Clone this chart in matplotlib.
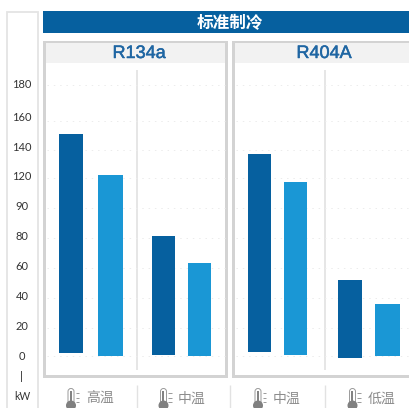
import matplotlib
matplotlib.use("Agg")
import matplotlib.pyplot as plt
import matplotlib.patheffects as pe
from matplotlib.patches import Rectangle, Circle, FancyBboxPatch

plt.rcParams['font.family'] = ['Noto Sans CJK SC', 'DejaVu Sans']

# ---- data ----
title = "标准制冷"
refrigerants = ["R134a", "R404A"]
zones = ["高温", "中温", "中温", "低温"]
tick_labels = ["180", "160", "140", "120", "90", "80", "60", "40", "20", "0"]
tick_positions = [181.8, 159.8, 139.8, 120.5, 100.5, 80.5, 60.5, 40.5, 20.5, 0.5]
grid_positions = [181, 157, 137.5, 119, 99, 79, 59, 39, 19, 0]
bar_tops = [148, 121, 80, 62, 135, 116, 51, 35]
bar_bottoms = [2, 0, 1, 0, 3, 1, -1, 0]

# ---- layout (pixels) ----
W, H = 410, 408
bar_left = [59, 98, 152, 188, 248, 284, 338, 375]
bar_right = [83, 123, 175, 211, 271, 307, 362, 400]
DARK, LIGHT = "#06609f", "#1a97d5"
bar_colors = [DARK, LIGHT] * 4
ZERO_Y = 356
PX_PER_UNIT = 1.5
AX_LEFT = 39

fig = plt.figure(figsize=(W / 100, H / 100), dpi=100, facecolor="white")

# chrome layer in pixel units
bg = fig.add_axes([0, 0, 1, 1], zorder=0)
bg.set_xlim(0, W)
bg.set_ylim(H, 0)
bg.axis("off")

def rect(x0, y0, x1, y1, **kw):
    kw.setdefault("linewidth", 0)
    bg.add_patch(Rectangle((x0, y0), x1 - x0, y1 - y0, **kw))

# value-axis strip
rect(6.7, 11.7, 38.3, 420, facecolor="white", edgecolor="#e4e4e4", linewidth=1.3)
# title bar
rect(43, 11, W + 5, 33, facecolor=DARK)
bg.text(230, 23, title, color="white", fontsize=12.0, fontweight="bold",
        ha="center", va="center")

# panels
panels = [(43, 228, 139, refrigerants[0], 137.2), (232, W + 6, 324, refrigerants[1], 325.3)]
for x0, x1, cx, name, div in panels:
    rect(x0 + 1.5, 41.5, x1 - 1.5, 376, facecolor="white", edgecolor="#d3d3d3", linewidth=3 * 0.72)
    rect(x0 + 3, 43, x1 - 3, 63, facecolor="#f2f2f2")
    bg.text(cx, 53.5, name, color="#1f66a3", fontsize=13.0, family="Liberation Sans",
            ha="center", va="center",
            path_effects=[pe.withStroke(linewidth=0.35, foreground="#1f66a3")])
    bg.plot([div, div], [70, 370], color="#e2e2e2", lw=1.2, solid_capstyle="butt")

# bottom zone row
for x in (137.5, 230.5, 325.3):
    bg.plot([x, x], [385, H], color="#e2e2e2", lw=1.0, solid_capstyle="butt")

GREY = "#808080"
def thermometer(cx):
    bg.add_patch(FancyBboxPatch((cx - 3, 388.5), 6, 16, boxstyle="round,pad=0,rounding_size=3",
                                facecolor="white", edgecolor="#9a9a9a", linewidth=0.7))
    bg.add_patch(Circle((cx, 405.5), 5, facecolor=GREY, edgecolor="none"))
    bg.plot([cx, cx], [391, 404], color=GREY, lw=1.4, solid_capstyle="butt")
    for y in (393, 397.5, 402):
        bg.plot([cx + 5, cx + 8.5], [y, y], color="#9a9a9a", lw=0.7, solid_capstyle="butt")

for icon_x, text_x, zone in zip((71, 163.5, 258, 352.5), (100, 192, 287, 381.5), zones):
    thermometer(icon_x)
    bg.text(text_x, 399, zone, color="#8c8c8c", fontsize=10, ha="center", va="center")

# unit
bg.text(22, 376, "|", color="#333333", fontsize=8.5, family="Lato", ha="center", va="center")
bg.text(22, 396.5, "kW", color="#333333", fontsize=7.6, family="Lato", ha="center", va="center")

# data layer
ax = fig.add_axes([AX_LEFT / W, 0, 1 - AX_LEFT / W, 1], zorder=1)
ax.patch.set_alpha(0)
ax.set_xlim(AX_LEFT, W)
ax.set_ylim((ZERO_Y - H) / PX_PER_UNIT, ZERO_Y / PX_PER_UNIT)
for s in ax.spines.values():
    s.set_visible(False)
ax.set_xticks([])
ax.set_yticks(tick_positions)
ax.set_yticklabels(tick_labels, fontsize=8.0, family="Lato", color="#333333")
ax.tick_params(axis="y", length=0, pad=12.2)
for t in ax.get_yticklabels():
    t.set_ha("center")

for x0, x1 in ((47, 225), (236, W)):
    ax.hlines(grid_positions, x0, x1, color="#ececec", lw=0.7, linestyles=(0, (1.5, 5)), zorder=1)

ax.bar(bar_left, [t - b for t, b in zip(bar_tops, bar_bottoms)], bottom=bar_bottoms,
       width=[r - l for l, r in zip(bar_left, bar_right)], align="edge",
       color=bar_colors, linewidth=0, zorder=2)

fig.savefig("out.png", dpi=100)
